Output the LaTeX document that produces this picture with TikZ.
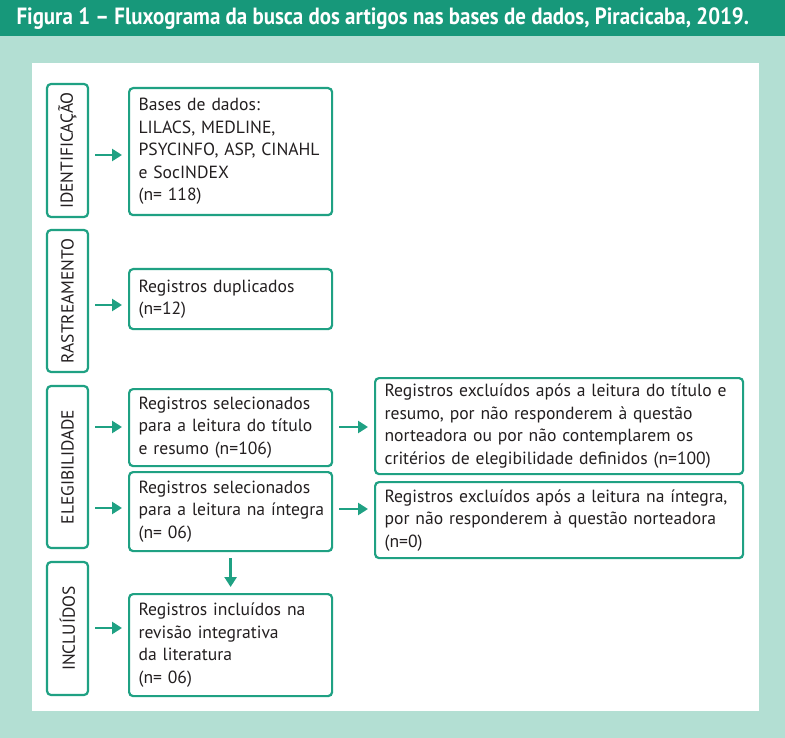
\documentclass[tikz,border=0pt]{standalone}
\usepackage{fontspec}
\usepackage{graphicx}
\setmainfont{PT Sans}
\newfontfamily\titulofont[FakeStretch=0.89]{PT Sans}
\usetikzlibrary{arrows.meta}
\definecolor{verdeescuro}{HTML}{17987A}
\definecolor{verdeclaro}{HTML}{B3DFD3}
\definecolor{verdelinha}{HTML}{1FA183}
\definecolor{texto}{HTML}{231F20}
\tikzset{
  caixa/.style={draw=verdelinha, line width=2.2pt, rounded corners=4pt, fill=white,
    anchor=north west, align=left, inner xsep=9.5pt, inner ysep=0pt, text=texto,
    font=\fontsize{17.6}{22.5}\selectfont},
  etapa/.style={draw=verdelinha, line width=2.2pt, rounded corners=4pt, inner sep=0pt,
    minimum width=41pt, text=texto, font=\fontsize{17.4}{20}\selectfont},
  seta/.style={-{Triangle[length=10pt,width=12pt]}, draw=verdelinha, line width=2.8pt,
    shorten <=6pt, shorten >=6pt}
}
\begin{document}
\begin{tikzpicture}[x=1pt,y=-1pt]
  \useasboundingbox (0,0) rectangle (785,738);
  \fill[verdeclaro] (0,0) rectangle (785,738);
  \fill[verdeescuro] (0,0) rectangle (785,36);
  \fill[white] (32,63) rectangle (759,711);
  \node[anchor=west, text=white, font=\titulofont\bfseries\fontsize{23.5}{26}\selectfont] (titulo) at (13,19)
    {Figura 1 – Fluxograma da busca dos artigos nas bases de dados, Piracicaba, 2019.};

  \node[etapa, minimum height=133pt] (lid) at (67.5,150.5) {\rotatebox{90}{IDENTIFICAÇÃO}};
  \node[etapa, minimum height=142pt] (lra) at (67.5,301) {\rotatebox{90}{RASTREAMENTO}};
  \node[etapa, minimum height=162pt] (lel) at (67.5,467) {\rotatebox{90}{ELEGIBILIDADE}};
  \node[etapa, minimum height=133pt] (lin) at (67.5,628.5) {\rotatebox{90}{INCLUÍDOS}};

  \node[caixa, text width=184pt, minimum width=203pt, minimum height=127pt] (bases) at (128,87)
    {Bases de dados:\\LILACS, MEDLINE,\\PSYCINFO, ASP, CINAHL\\e SocINDEX\\(n= 118)};
  \node[caixa, text width=184pt, minimum width=203pt, minimum height=60pt] (dup) at (128,268)
    {Registros duplicados\\(n=12)};
  \node[caixa, text width=184pt, minimum width=203pt, minimum height=77pt] (sel1) at (128,388)
    {Registros selecionados\\para a leitura do título\\e resumo (n=106)};
  \node[caixa, text width=184pt, minimum width=203pt, minimum height=79pt] (sel2) at (128,471)
    {Registros selecionados\\\mbox{para a leitura na íntegra}\\(n= 06)};
  \node[caixa, text width=349pt, minimum width=368pt, minimum height=96pt] (exc1) at (374,377)
    {Registros excluídos após a leitura do título e\\resumo, por não responderem à questão\\norteadora ou por não contemplarem os\\critérios de elegibilidade definidos (n=100)};
  \node[caixa, text width=349pt, minimum width=368pt, minimum height=76pt] (exc2) at (374,481)
    {Registros excluídos após a leitura na íntegra,\\por não responderem à questão norteadora\\(n=0)};
  \node[caixa, text width=184pt, minimum width=203pt, minimum height=102pt] (incl) at (128,593)
    {Registros incluídos na\\revisão integrativa\\da literatura\\(n= 06)};

  \draw[seta] (lid.east |- 0,155) -- (bases.west |- 0,155);
  \draw[seta] (lra.east |- 0,305) -- (dup.west |- 0,305);
  \draw[seta] (lel.east |- 0,427) -- (sel1.west |- 0,427);
  \draw[seta] (lel.east |- 0,508) -- (sel2.west |- 0,508);
  \draw[seta] (lin.east |- 0,628) -- (incl.west |- 0,628);
  \draw[seta] (sel1.east |- 0,427) -- (exc1.west |- 0,427);
  \draw[seta] (sel2.east |- 0,509) -- (exc2.west |- 0,509);
  \draw[seta] (sel2.south) -- (incl.north);
\end{tikzpicture}
\end{document}
